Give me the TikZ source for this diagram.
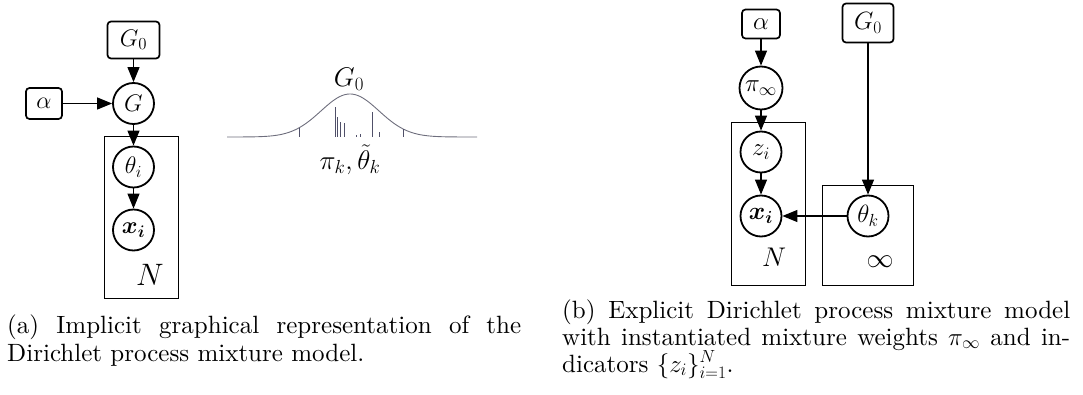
\RequirePackage{fix-cm}
\documentclass[tikz,border=0pt]{standalone}
\usepackage{amsmath,bm}
\usepackage{fontspec}
\setmainfont{lmroman10-regular.otf}
\usetikzlibrary{arrows.meta}
\definecolor{curvecol}{RGB}{110,110,125}
\definecolor{stickcol}{RGB}{80,80,105}
\begin{document}
\begin{tikzpicture}[x=1pt,y=-1pt,
  rv/.style={draw,circle,line width=1.8pt,minimum size=41pt,inner sep=0pt},
  hyp/.style={draw,rounded corners=3.5pt,line width=1.7pt,inner sep=0pt},
  plate/.style={draw,line width=1pt,inner sep=0pt},
  arr/.style={-{Triangle[length=15pt,width=12pt]},line width=1.2pt},
  fa/.style={font=\fontsize{24}{28}\selectfont},
  fb/.style={font=\fontsize{25}{29}\selectfont},
  flab/.style={font=\fontsize{27}{31}\selectfont},
  stick/.style={draw=stickcol,line width=1pt},
  captext/.style={anchor=base west,inner sep=0pt}]
\path[use as bounding box] (0,0) rectangle (1083,395);

% ---------- panel (a): graphical model ----------
\node[hyp,fa,minimum width=52pt,minimum height=37pt] (G0a) at (133.5,40) {$G_0$};
\node[hyp,fa,minimum width=36pt,minimum height=31pt] (alphaa) at (44,103.5) {$\alpha$};
\node[rv,fa] (Ga) at (133.5,103.5) {$G$};
\node[rv,fa] (thetaa) at (133.5,167) {$\theta_i$};
\node[rv,fa] (xa) at (133.5,230) {$\bm{x_i}$};
\node[plate,minimum width=74pt,minimum height=161pt] (platea) at (141,217.5) {};
\node[font=\fontsize{31}{34}\selectfont] (Na) at (150,275) {$N$};
\draw[arr] (G0a) -- (Ga);
\draw[arr] (alphaa) -- (Ga);
\draw[arr] (Ga) -- (thetaa);
\draw[arr] (thetaa) -- (xa);

% ---------- panel (a): base measure sketch ----------
\draw[curvecol,line width=0.9pt] plot[domain=227:477,samples=120]
  (\x,{137-43*exp(-0.5*((\x-350)/29)^2)});
\foreach \sx/\sy in {299/128.3,335/106.7,337.3/116.7,340.7/121.7,344/123.3,
  356.7/135,360.7/134,372.7/111.7,379.3/131.7,403/129}
  \draw[stick] (\sx,137) -- (\sx,\sy);
\node[flab] (G0c) at (349,79) {$G_0$};
\node[flab] (pik) at (350,160) {$\pi_k,\tilde{\theta}_k$};

% ---------- panel (b) ----------
\node[hyp,fb,minimum width=38pt,minimum height=29pt] (alphab) at (761,24) {$\alpha$};
\node[hyp,fb,minimum width=51pt,minimum height=39pt] (G0b) at (868,23) {$G_0$};
\node[rv,fb,minimum size=43pt] (pib) at (761,88) {$\pi_\infty$};
\node[rv,fb] (zb) at (761,152) {$z_i$};
\node[rv,fb] (xb) at (761,216) {$\bm{x_i}$};
\node[rv,fb] (thetab) at (868,216) {$\theta_k$};
\node[plate,minimum width=74pt,minimum height=162pt] (plateN) at (768,204) {};
\node[plate,minimum width=91pt,minimum height=99pt] (plateInf) at (867.5,235.5) {};
\node[flab] (Nb) at (774,257) {$N$};
\node[flab] (infb) at (880,262) {$\infty$};
\draw[arr] (alphab) -- (pib);
\draw[arr] (pib) -- (zb);
\draw[arr] (zb) -- (xb);
\draw[arr] (G0b) -- (thetab);
\draw[arr] (thetab) -- (xb);

% ---------- captions ----------
\node[captext,font=\fontsize{25}{28}\selectfont] (capa) at (7,333)
  {\parbox[t]{520pt}{\makebox[514pt][s]{(a) Implicit graphical representation of the}\\
   Dirichlet process mixture model.}};
\node[captext,font=\fontsize{25}{27}\selectfont] (capb) at (562,318)
  {\parbox[t]{515pt}{\makebox[508pt][s]{(b) Explicit Dirichlet process mixture model}\\
   \makebox[508pt][s]{with instantiated mixture weights $\pi_\infty$ and in-}\\
   dicators $\{z_i\}_{i=1}^N$.}};
\end{tikzpicture}
\end{document}
